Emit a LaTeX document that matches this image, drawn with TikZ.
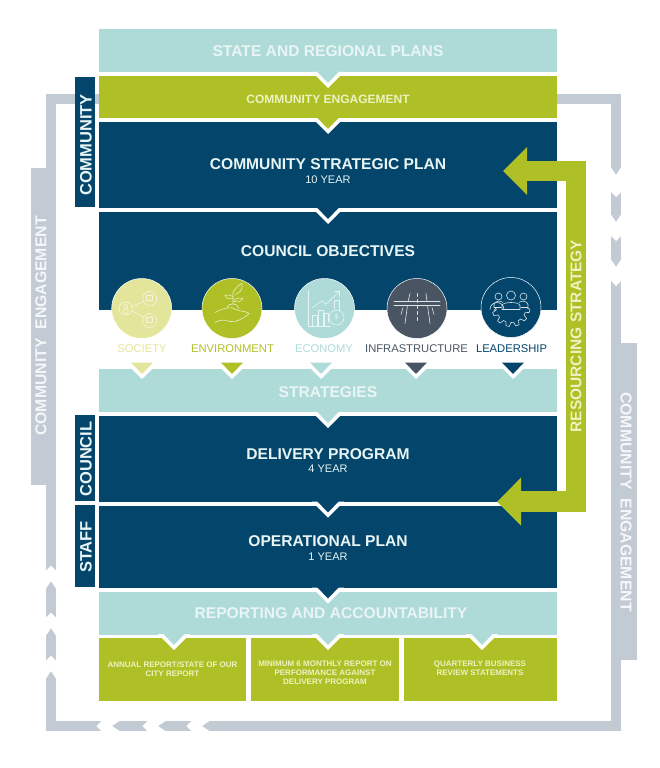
\documentclass[tikz,border=0pt]{standalone}
\usepackage{fontspec}
\setmainfont{Liberation Sans}
\usetikzlibrary{arrows.meta,positioning}

\definecolor{tealband}{HTML}{AEDBD8}
\definecolor{greenband}{HTML}{AEC026}
\definecolor{navyband}{HTML}{03456B}
\definecolor{loopgrey}{HTML}{C2CAD3}
\definecolor{societycol}{HTML}{E3E59B}
\definecolor{infracol}{HTML}{4A5563}
\definecolor{paletext}{HTML}{E9F5F4}
\definecolor{palegreen}{HTML}{EEF2C0}

\tikzset{
	band/.style = {minimum width=458pt,inner sep=0pt,outer sep=0pt},
	title/.style = {inner sep=0pt,text=paletext,font=\bfseries\fontsize{15.6}{18}\selectfont},
	yearlabel/.style = {inner sep=0pt,text=paletext,font=\fontsize{11}{13}\selectfont},
	sidebox/.style = {rotate=90,fill=navyband,minimum height=20pt,inner sep=0pt},
	sidetext/.style = {rotate=90,inner sep=0pt,text=paletext,font=\bfseries\fontsize{16.5}{19}\selectfont},
	reportbox/.style = {fill=greenband,minimum height=63pt,inner sep=0pt,outer sep=0pt},
	reporttext/.style = {inner sep=0pt,align=center,text=palegreen,font=\bfseries\fontsize{8}{9}\selectfont},
	objcircle/.style = {circle,draw=white,line width=.5pt,minimum size=60pt,inner sep=0pt},
	objlabel/.style = {inner sep=0pt,font=\fontsize{11.2}{14}\selectfont},
	engbar/.style = {fill=loopgrey,minimum width=317pt,minimum height=25pt,inner sep=0pt},
	engtext/.style = {inner sep=0pt,text=white!85!loopgrey,font=\bfseries\fontsize{15.8}{18}\selectfont},
	icon/.style = {line width=.6pt,line cap=round,line join=round},
	pics/bandtip/.style = {code = {
		\fill[white] (-16,0) -- (0,16) -- (16,0) -- cycle;
		\fill[#1] (-11,-.5) -- (0,11) -- (11,-.5) -- cycle;
	}},
	pics/gapchevron/.style = {code = {
		\fill[white] (-2,-6) -- (7,0) -- (-2,6) -- (#1-1,6) -- (#1+5,0) -- (#1-1,-6) -- cycle;
	}}
}

\begin{document}
\begin{tikzpicture}
	[x=1pt,y=-1pt,node distance=4pt]
\useasboundingbox (0,0) rectangle (660,768);

% community engagement loop
\coordinate (looptl) at (51,99);
\coordinate (loopbr) at (616,726);
\draw[loopgrey,line width=10pt] (looptl) rectangle (loopbr);
\foreach \y/\l in {168/24,215/21,260/21}
	\pic[rotate=-90] at (616,\y) {gapchevron=\l};
\foreach \y in {678,635,588}
	\pic[rotate=90] at (51,\y) {gapchevron=17.5};
\foreach \x in {209,165,119}
	\pic[rotate=180] at (\x,726) {gapchevron=17.5};
\node[engbar,rotate=90](engleft) at (43.5,326.5){};
\node[engbar,rotate=90](engright) at (624,501.5){};
\node[engtext,rotate=90](englefttext) at (41,326){COMMUNITY\ \ ENGAGEMENT};
\node[engtext,rotate=-90](engrighttext) at (626,502){COMMUNITY\ \ ENGAGEMENT};

% main column
\node[band,fill=tealband,minimum height=43pt](state) at (328,50.5){};
\node[band,fill=greenband,minimum height=42pt](engage)[below=of state]{};
\node[band,fill=navyband,minimum height=86pt](csp)[below=of engage]{};
\node[band,fill=navyband,minimum height=98pt](objectives)[below=of csp]{};
\node[band,fill=tealband,minimum height=43pt](strategies)[below=59pt of objectives]{};
\node[band,fill=navyband,minimum height=85.5pt](delivery)[below=of strategies]{};
\node[band,fill=navyband,minimum height=82pt](operational)[below=of delivery]{};
\node[band,fill=tealband,minimum height=43pt](reporting)[below=of operational]{};

% side labels
\node[sidebox,minimum width=130pt](sidecommunity) at (85,142){};
\node[sidebox,minimum width=86pt](sidecouncil) at (85,458){};
\node[sidebox,minimum width=82pt](sidestaff) at (85,546){};
\node[sidetext](communitytext) at (86,145){COMMUNITY};
\node[sidetext](counciltext) at (86,459){COUNCIL};
\node[sidetext](stafftext) at (86,547){STAFF};

% report boxes
\node[reportbox,minimum width=147.5pt](annual) at (172.25,669.5){};
\node[reportbox,minimum width=147.5pt](monthly) at (324.75,669.5){};
\node[reportbox,minimum width=153pt](quarterly) at (480.5,669.5){};
\node[reporttext,anchor=north](annualtext) at (172.5,661){ANNUAL REPORT/STATE OF OUR\\CITY REPORT};
\node[reporttext,anchor=north](monthlytext) at (325,661){MINIMUM 6 MONTHLY REPORT ON\\PERFORMANCE AGAINST\\DELIVERY PROGRAM};
\node[reporttext,anchor=north](quarterlytext) at (480,661){QUARTERLY BUSINESS\\REVIEW STATEMENTS};

% tips between the bands
\pic at (state.south) {bandtip=tealband};
\pic at (engage.south) {bandtip=greenband};
\pic at (csp.south) {bandtip=navyband};
\pic at (strategies.south) {bandtip=tealband};
\pic at (delivery.south) {bandtip=navyband};
\pic at (operational.south) {bandtip=navyband};
\pic at (174,634) {bandtip=tealband};
\pic at (328,634) {bandtip=tealband};
\pic at (482,634) {bandtip=tealband};

% band titles
\node[title](statetitle) at (328,51){STATE AND REGIONAL PLANS};
\node[title,text=palegreen,font=\bfseries\fontsize{12}{14}\selectfont](engagetitle) at (328,99.5){COMMUNITY ENGAGEMENT};
\node[title](csptitle) at (328,164){COMMUNITY STRATEGIC PLAN};
\node[yearlabel](cspyear)[below=5.5pt of csptitle]{10 YEAR};
\node[title](objtitle) at (328,251){COUNCIL OBJECTIVES};
\node[title](strategiestitle) at (328,392){STRATEGIES};
\node[title](deltitle) at (328,454){DELIVERY PROGRAM};
\node[yearlabel](delyear)[below=5.5pt of deltitle]{4 YEAR};
\node[title](optitle) at (328,541.5){OPERATIONAL PLAN};
\node[yearlabel](opyear)[below=5.5pt of optitle]{1 YEAR};
\node[title](reportingtitle) at (331,613){REPORTING AND ACCOUNTABILITY};

% objectives
\pic at (142,363) {bandtip=societycol};
\pic at (232,363) {bandtip=greenband};
\pic at (321,363) {bandtip=tealband};
\pic at (416,363) {bandtip=infracol};
\pic at (513,363) {bandtip=navyband};

\node[objcircle,fill=societycol](society) at (141.7,308.5){};
\node[objcircle,fill=greenband](environment) at (232,308.5){};
\node[objcircle,fill=tealband](economy) at (324.5,308.5){};
\node[objcircle,fill=infracol](infrastructure) at (417,308.5){};
\node[objcircle,fill=navyband](leadership) at (511,307.5){};

\node[objlabel,text=societycol](societytext) at (142,349){SOCIETY};
\node[objlabel,text=greenband](environmenttext) at (232.5,349){ENVIRONMENT};
\node[objlabel,text=tealband](economytext) at (324,349){ECONOMY};
\node[objlabel,text=infracol](infrastructuretext) at (416.5,349){INFRASTRUCTURE};
\node[objlabel,text=navyband](leadershiptext) at (511.5,348.5){LEADERSHIP};

% society icon
\begin{scope}[shift={(society)},icon,draw=white!65!societycol]
	\draw (-16,0) circle (6.5) (8,-10) circle (7) (8,12) circle (7);
	\draw (-10,-2) -- (2,-7) (-10,2) -- (2,9);
	\draw (-16,-2) circle (2) (-16,2.5) circle (2.5);
	\draw (5,-8) rectangle (11,-13) (5,14) rectangle (11,9);
\end{scope}
% environment icon
\begin{scope}[shift={(environment)},icon,draw=white!75!greenband]
	\draw (-17,4) .. controls (-8,-1) and (0,-2) .. (4,1) .. controls (8,3) and (16,3) .. (17,5) .. controls (12,10) and (4,14) .. (-2,13) .. controls (-8,11) and (-12,11) .. (-17,14);
	\draw (-5,-1) .. controls (-4,-6) and (6,-6) .. (7,0);
	\draw (1,-5) -- (1,-16) .. controls (3,-20) and (7,-24) .. (10,-25) .. controls (11,-20) and (9,-16) .. (3,-14);
	\draw (1,-12) .. controls (-3,-14) and (-5,-14) .. (-7,-13) .. controls (-5,-9) and (-2,-9) .. (1,-10);
	\draw (2,-8) .. controls (5,-11) and (8,-11) .. (11,-10) .. controls (8,-6) and (5,-6) .. (2,-7);
\end{scope}
% economy icon
\begin{scope}[shift={(economy)},icon,draw=white!70!tealband]
	\draw (-16,-18) -- (-16,18) -- (6,18);
	\draw (-12,18) -- (-12,7) -- (-7,7) -- (-7,18) (-6,18) -- (-6,2) -- (-1,2) -- (-1,18) (0,18) -- (0,5) -- (4,5) -- (4,14);
	\draw (10,-8) -- (15,-8) -- (15,2) (10,-8) -- (10,0);
	\draw (-12,-1) -- (-2,-8) -- (1,-4) -- (15,-17) (10,-17) -- (15,-17) -- (15,-12);
	\draw (12,9) circle (7.5);
	\node[inner sep=0pt,text=white!70!tealband,font=\fontsize{7}{8}\selectfont](coin) at (12,9){\$};
\end{scope}
% infrastructure icon
\begin{scope}[shift={(infrastructure)},icon,draw=white!85!infracol]
	\draw[line width=.8pt] (-23,-7) -- (23,-7) (-23,-3) -- (23,-3);
	\draw (-7,-15) -- (-9,-7) (-9.5,-3) -- (-12,15) (9,-15) -- (10,-7) (10.5,-3) -- (13,15);
	\draw (-14,-1) -- (-16,6) (15,-1) -- (17,6);
	\draw[dash pattern=on 3pt off 3pt] (0,-15) -- (0,15);
\end{scope}
% leadership icon
\begin{scope}[shift={(leadership)},icon,draw=white!85!navyband]
	\draw (0,-12) circle (4.5) (-12.5,-11) circle (3.5) (12.5,-11) circle (3.5);
	\draw (-9,2) -- (-9,-2) .. controls (-8,-6) and (8,-6) .. (9,-2) -- (9,2) -- cycle;
	\draw (-7,2) arc[start angle=180,end angle=0,radius=-7];
	\draw (-17,0) -- (-17,-3) .. controls (-16,-7) and (-10,-7) .. (-8,-5) (17,0) -- (17,-3) .. controls (16,-7) and (10,-7) .. (8,-5) (-17,0) -- (-10,0) (17,0) -- (10,0);
	\draw (-17,3) \foreach \a in {170,140,110,80,50,20} {-- (\a+9:15) -- (\a:15) -- (\a-5:19) -- (\a-15:19) -- (\a-20:15)};
\end{scope}

% resourcing strategy arrow
\coordinate (tiptop) at (503,171);
\coordinate (tipbottom) at (497,501.7);
\coordinate (cornertop) at (576,171);
\coordinate (cornerbottom) at (576,501.7);
\draw[greenband,line width=20.5pt,miter limit=4,{Triangle[length=24pt,width=46.5pt]}-{Triangle[length=24pt,width=46.5pt]}] (tiptop) -- (cornertop) -- (cornerbottom) -- (tipbottom);
\node[inner sep=0pt,rotate=90,text=palegreen,font=\bfseries\fontsize{15.5}{18}\selectfont](resourcing) at (576,336){RESOURCING STRATEGY};

\end{tikzpicture}
\end{document}
